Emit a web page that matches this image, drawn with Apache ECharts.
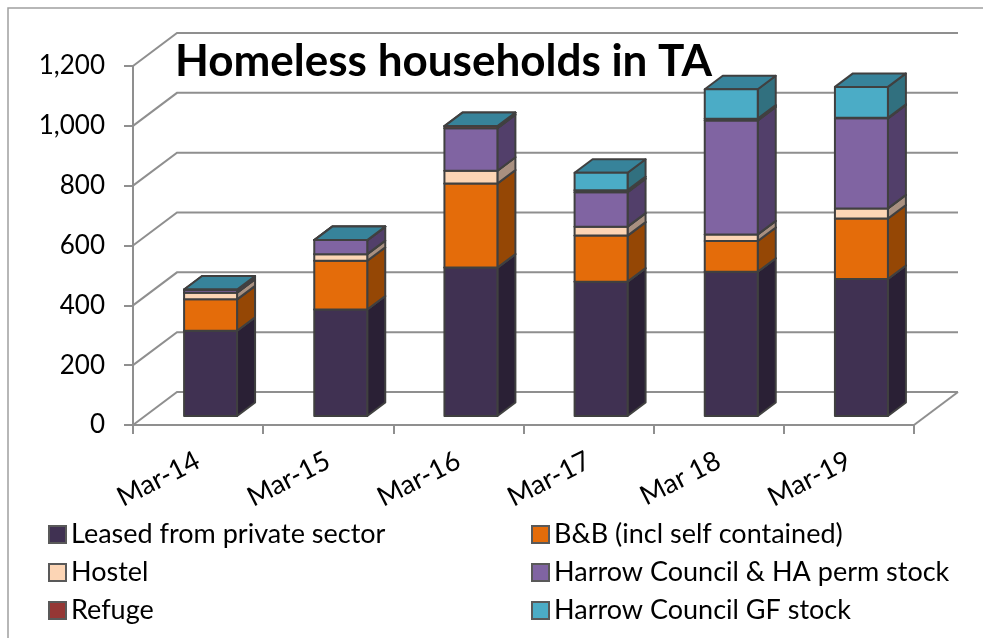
<!DOCTYPE html>
<html>
<head>
<meta charset="utf-8">
<title>Homeless households in TA</title>
<script src="https://cdn.jsdelivr.net/npm/echarts@6/dist/echarts.min.js"></script>
<style>
  html, body { margin: 0; padding: 0; background: #fff; }
  #chart { width: 983px; height: 638px; }
</style>
</head>
<body>
<div id="chart"></div>
<script>
var categories = ["Mar-14", "Mar-15", "Mar-16", "Mar-17", "Mar 18", "Mar-19"];
var yTicks = [0, 200, 400, 600, 800, 1000, 1200];

var leased = [285, 356, 496, 449, 482, 458];
var bnb = [105, 163, 281, 154, 103, 202];
var hostel = [22, 22, 43, 30, 22, 34];
var harrowPerm = [9, 47, 142, 115, 381, 301];
var refuge = [2, 0, 7, 7, 6, 2];
var harrowGf = [0, 0, 0, 58, 98, 103];

var seriesNames = [
  "Leased from private sector",
  "B&B (incl self contained)",
  "Hostel",
  "Harrow Council & HA perm stock",
  "Refuge",
  "Harrow Council GF stock"
];
var seriesValues = [leased, bnb, hostel, harrowPerm, refuge, harrowGf];

// front, side, top
var seriesColors = [
  ["#403152", "#2a2035", "#332741"],
  ["#e46c0a", "#954705", "#b55608"],
  ["#fcd5b5", "#a89080", "#c9aa90"],
  ["#8064a2", "#523f6a", "#665081"],
  ["#953735", "#612322", "#772c2a"],
  ["#4bacc6", "#31707f", "#37839a"]
];

// fake 3d offsets, in pixels
var WALL_DX = 44, WALL_DY = 33;
var BAR_SHIFT_X = 12.5, BAR_SHIFT_Y = 9;
var BAR_DX = 18, BAR_DY = 13.5;
var BAR_RATIO = 0.407;

var LINE = "#8f8f8f";
var OUTLINE = "#404040";
var FONT = "Lato";

function renderWall(params, api) {
  var cs = params.coordSys;
  var y = api.coord([0, api.value(0)])[1];
  var left = cs.x, right = cs.x + cs.width;
  var children = [{
    type: "polyline",
    shape: { points: [[left, y], [left + WALL_DX, y - WALL_DY], [right + WALL_DX, y - WALL_DY]] },
    style: { fill: "none", stroke: LINE, lineWidth: 2 }
  }];
  if (api.value(0) === 0) {
    children.push({
      type: "line",
      shape: { x1: right, y1: y, x2: right + WALL_DX, y2: y - WALL_DY },
      style: { stroke: LINE, lineWidth: 2 }
    });
  }
  return { type: "group", children: children };
}

function makeBarRenderer(colors) {
  return function (params, api) {
    var low = api.coord([api.value(0), api.value(1)]);
    var high = api.coord([api.value(0), api.value(2)]);
    var w = api.size([1, 0])[0] * BAR_RATIO;
    var x0 = low[0] + BAR_SHIFT_X - w / 2;
    var x1 = x0 + w;
    var yLow = low[1] - BAR_SHIFT_Y;
    var yHigh = high[1] - BAR_SHIFT_Y;
    function face(points, fill) {
      return {
        type: "polygon",
        shape: { points: points },
        style: { fill: fill, stroke: OUTLINE, lineWidth: 2, lineJoin: "round" }
      };
    }
    return {
      type: "group",
      children: [
        face([[x1, yLow], [x1 + BAR_DX, yLow - BAR_DY], [x1 + BAR_DX, yHigh - BAR_DY], [x1, yHigh]], colors[1]),
        face([[x0, yHigh], [x1, yHigh], [x1 + BAR_DX, yHigh - BAR_DY], [x0 + BAR_DX, yHigh - BAR_DY]], colors[2]),
        face([[x0, yLow], [x1, yLow], [x1, yHigh], [x0, yHigh]], colors[0])
      ]
    };
  };
}

var series = [{
  type: "custom",
  renderItem: renderWall,
  silent: true,
  data: yTicks.map(function (v) { return [v]; })
}];

var running = categories.map(function () { return 0; });
seriesNames.forEach(function (name, s) {
  series.push({
    name: name,
    type: "custom",
    renderItem: makeBarRenderer(seriesColors[s]),
    itemStyle: { color: seriesColors[s][0], borderColor: "#595959", borderWidth: 1.5 },
    encode: { x: 0, y: [1, 2] },
    data: seriesValues[s].map(function (v, i) {
      var row = [i, running[i], running[i] + v];
      running[i] += v;
      return row;
    })
  });
});

function legendBlock(left, names) {
  return {
    left: left,
    top: 516,
    orient: "vertical",
    icon: "rect",
    selectedMode: false,
    itemWidth: 17,
    itemHeight: 17,
    itemGap: 11,
    data: names,
    textStyle: { fontFamily: FONT, fontSize: 27, color: "#000" }
  };
}

var option = {
  animation: false,
  backgroundColor: "#fff",
  title: {
    text: "Homeless households in TA",
    left: 170,
    top: 35,
    textStyle: { fontFamily: FONT, fontSize: 44, fontWeight: "bold", color: "#000" }
  },
  legend: [
    legendBlock(43, [seriesNames[0], seriesNames[2], seriesNames[4]]),
    legendBlock(526, [seriesNames[1], seriesNames[3], seriesNames[5]])
  ],
  grid: { left: 133, right: 69, top: 66, bottom: 213 },
  xAxis: {
    type: "category",
    data: categories,
    boundaryGap: true,
    axisLine: { lineStyle: { color: LINE, width: 2 } },
    axisTick: { show: true, length: 9, alignWithLabel: false, lineStyle: { color: LINE, width: 2 } },
    axisLabel: {
      rotate: 27,
      margin: 34,
      interval: 0,
      fontFamily: FONT,
      fontSize: 27,
      color: "#000"
    }
  },
  yAxis: {
    type: "value",
    min: 0,
    max: 1200,
    interval: 200,
    splitLine: { show: false },
    axisLine: { show: true, lineStyle: { color: LINE, width: 2 } },
    axisTick: { show: true, length: 9, lineStyle: { color: LINE, width: 2 } },
    axisLabel: {
      margin: 28,
      padding: [7, 0, 0, 0],
      fontFamily: FONT,
      fontSize: 26,
      color: "#000",
      formatter: function (v) { return v.toLocaleString("en-US"); }
    }
  },
  graphic: [{
    type: "rect",
    silent: true,
    shape: { x: 8, y: 8, width: 1100, height: 800 },
    style: { fill: "none", stroke: "#a0a0a0", lineWidth: 1.5 }
  }],
  series: series
};

var myChart = echarts.init(document.getElementById("chart"));
myChart.setOption(option);
</script>
</body>
</html>
